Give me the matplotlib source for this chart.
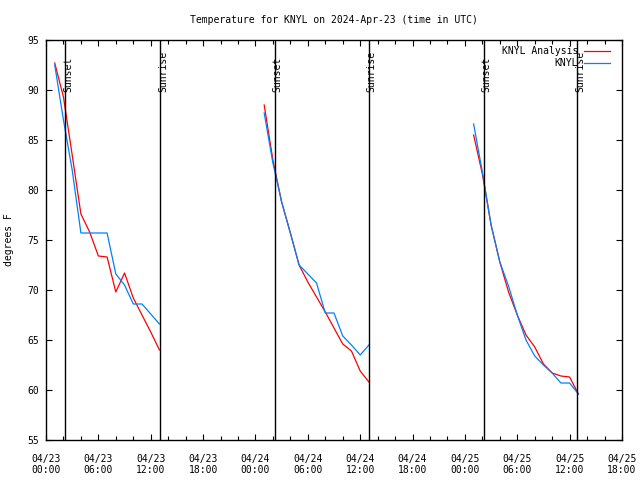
import numpy as np
import pandas as pd
import matplotlib
matplotlib.use("Agg")
import matplotlib.pyplot as plt
import matplotlib.dates as mdates

plt.rcParams['font.family'] = ['DejaVu Sans Mono']
plt.rcParams['font.size'] = 7

# hourly times of each night segment (UTC)
times_1 = ["2024-04-23 %02d:00" % h for h in [1, 2, 3, 4, 5, 6, 7, 8, 9, 10, 11, 12, 13]]
times_2 = ["2024-04-24 %02d:00" % h for h in [1, 2, 3, 4, 5, 6, 7, 8, 9, 10, 11, 12, 13]]
times_3 = ["2024-04-25 %02d:00" % h for h in [1, 2, 3, 4, 5, 6, 7, 8, 9, 10, 11, 12, 13]]

# KNYL Analysis (red)
analysis_1 = [92.7, 89.3, 83.5, 77.6, 75.8, 73.4, 73.3, 69.8, 71.7, 69.2, 67.5, 65.8, 64.0]
analysis_2 = [88.5, 83.0, 78.8, 75.7, 72.5, 70.8, 69.3, 67.8, 66.2, 64.6, 63.9, 61.9, 60.8]
analysis_3 = [85.5, 81.6, 76.5, 72.8, 69.8, 67.5, 65.5, 64.3, 62.6, 61.7, 61.4, 61.3, 59.6]

# KNYL observations (blue)
obs_1 = [92.5, 87.0, 82.0, 75.7, 75.7, 75.7, 75.7, 71.6, 70.5, 68.6, 68.6, 67.6, 66.6]
obs_2 = [87.7, 82.7, 78.8, 75.7, 72.5, 71.6, 70.7, 67.7, 67.7, 65.4, 64.5, 63.5, 64.5]
obs_3 = [86.6, 81.8, 76.5, 72.8, 70.4, 67.5, 65.0, 63.4, 62.5, 61.7, 60.7, 60.7, 59.6]

sunsets = ["2024-04-23 02:12", "2024-04-24 02:11", "2024-04-25 02:09"]
sunrises = ["2024-04-23 13:06", "2024-04-24 12:58", "2024-04-25 12:52"]

fig = plt.figure(figsize=(6.4, 4.8), dpi=100)
ax = fig.add_axes([46/640, 40/480, 576/640, 400/480])

segments = [(times_1, analysis_1, obs_1), (times_2, analysis_2, obs_2), (times_3, analysis_3, obs_3)]
for i, (t, a, o) in enumerate(segments):
    t = pd.to_datetime(t)
    ax.plot(t, a, color='#ff0000', lw=0.9, label='KNYL Analysis' if i == 0 else None)
    ax.plot(t, o, color='#0080ff', lw=0.9, label='KNYL' if i == 0 else None)

# sunset / sunrise markers
for name, lst in [("Sunset", sunsets), ("Sunrise", sunrises)]:
    for s in lst:
        ts = pd.Timestamp(s)
        ax.axvline(ts, color='black', lw=1.0)
        ax.annotate(name, xy=(ts, 0.87), xycoords=('data', 'axes fraction'),
                    xytext=(3, 0), textcoords='offset pixels',
                    rotation=90, ha='center', va='bottom', fontsize=7)

ax.set_xlim(pd.Timestamp("2024-04-23 00:00"), pd.Timestamp("2024-04-25 18:00"))
ax.set_ylim(55, 95)
ax.set_yticks(np.arange(55, 96, 5))
ax.xaxis.set_major_locator(mdates.HourLocator(byhour=[0, 6, 12, 18]))
ax.xaxis.set_minor_locator(mdates.HourLocator(byhour=range(0, 24, 2)))
ax.xaxis.set_major_formatter(mdates.DateFormatter('%m/%d\n%H:%M'))

ax.tick_params(axis='both', which='both', direction='in', top=True, right=True, width=0.8)
ax.tick_params(axis='x', which='major', length=4, pad=10)
ax.tick_params(axis='x', which='minor', length=3)
ax.tick_params(axis='y', which='major', length=4, pad=5)
for sp in ax.spines.values():
    sp.set_linewidth(1.0)

ax.set_ylabel('degrees F')
ax.yaxis.set_label_coords(-(46 - 14) / 576, 0.5)
fig.text(334/640, 1 - 20/480, 'Temperature for KNYL on 2024-Apr-23 (time in UTC)',
         ha='center', va='center', fontsize=7)

ax.legend(loc='upper right', bbox_to_anchor=(1 - 12/576, 1 - 6/400), frameon=False,
          markerfirst=False, handlelength=2.7, handletextpad=0.6,
          labelspacing=0.2, borderaxespad=0, borderpad=0, fontsize=7)

fig.savefig('out.png', dpi=100)
